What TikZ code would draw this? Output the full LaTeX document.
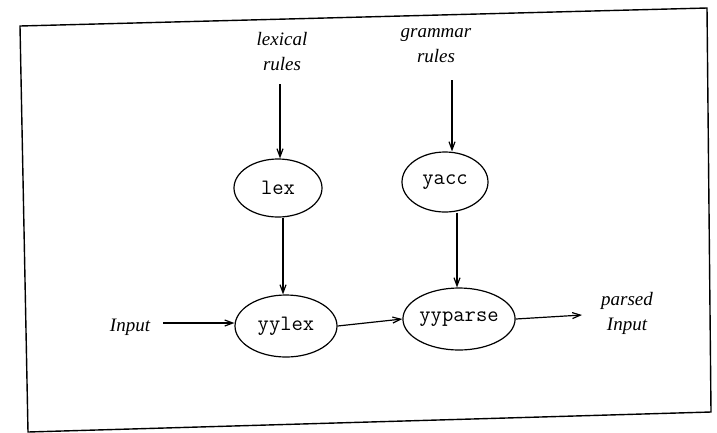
\documentclass[tikz,border=0pt]{standalone}
\usepackage{fontspec}
\setmainfont{Liberation Serif}
\usetikzlibrary{arrows.meta,shapes.geometric}
\begin{document}
\begin{tikzpicture}[x=1pt,y=-1pt,
  lbl/.style={font=\fontsize{19}{25}\selectfont\itshape, align=center, inner sep=0pt},
  prog/.style={draw, ellipse, line width=1.2pt, font=\fontsize{22}{24}\selectfont\ttfamily, inner sep=0pt},
  flow/.style={line width=1.2pt, -{Straight Barb[length=8pt,width=6pt]}}]
\useasboundingbox (0,0) rectangle (717,432);
\draw[line width=1.4pt] (20,26) -- (707,8) -- (711,412) -- (28,432) -- cycle;
\node[lbl] (lexr) at (282,52) {lexical\\rules};
\node[lbl] (gramr) at (436,46) {grammar\\rules};
\node[prog, minimum width=88pt, minimum height=58pt] (lex) at (278,188) {lex};
\node[prog, minimum width=86pt, minimum height=60pt] (yacc) at (445,182) {yacc};
\node[prog, minimum width=102pt, minimum height=62pt] (yylex) at (286,326) {yylex};
\node[prog, minimum width=104pt, minimum height=62pt] (yyparse) at (459,319) {yyparse};
\node[lbl] (input) at (130,327) {Input};
\node[lbl] (parsed) at (627,313) {parsed\\Input};
\coordinate (lexa) at (280,84);
\coordinate (grama) at (452,80);
\coordinate (inpa) at (163,323);
\coordinate (parsa) at (582,315);
\draw[flow] (lexa) -- (lex.north -| lexa);
\draw[flow] (grama) -- (yacc.north -| grama);
\draw[flow] (lex.south -| 283,0) -- (yylex.north -| 283,0);
\draw[flow] (yacc.south -| 457,0) -- (yyparse.north -| 457,0);
\draw[flow] (inpa) -- (yylex.west |- inpa);
\draw[flow] (yylex.east) -- (yyparse.west);
\draw[flow] (yyparse.east) -- (parsa);
\end{tikzpicture}
\end{document}
